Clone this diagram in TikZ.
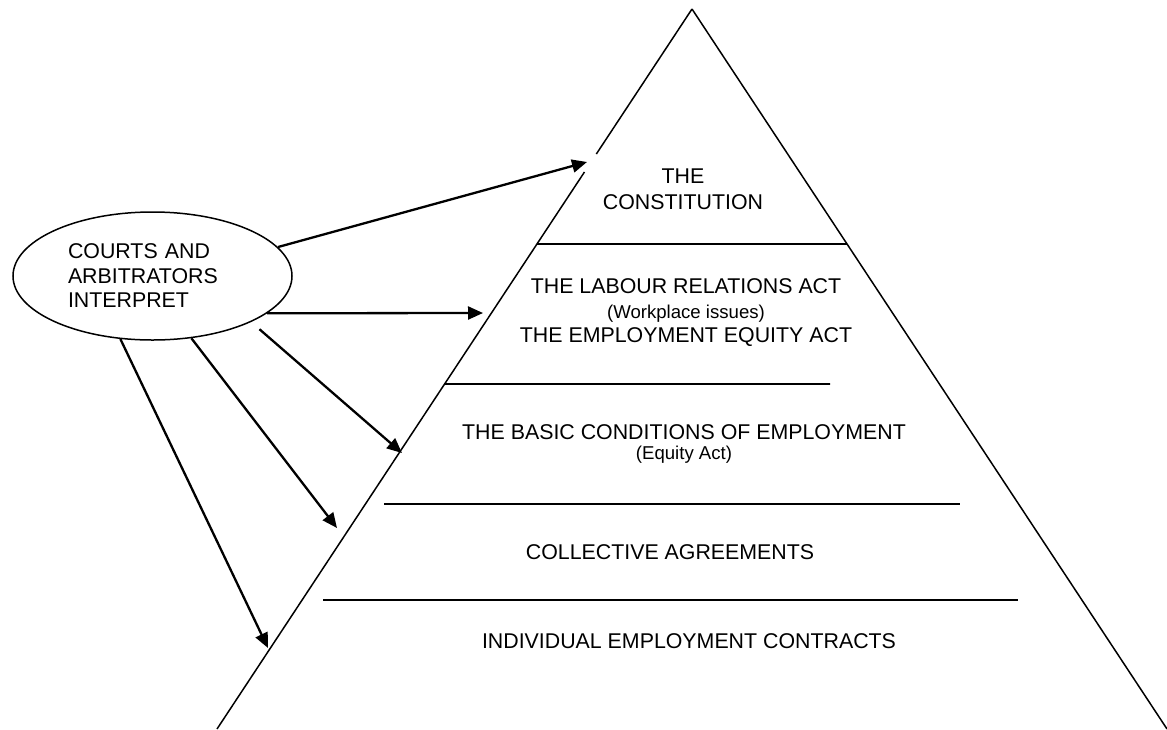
\documentclass[tikz,border=0pt]{standalone}
\usepackage{fontspec}
\setmainfont{Liberation Sans}
\usetikzlibrary{arrows.meta,positioning,shapes.geometric,calc}

\begin{document}
\begin{tikzpicture}[x=1pt,y=-1pt,node distance=25pt,on grid,
    >={Triangle[length=15pt,width=13pt]}]
  \tikzstyle{level}=[inner sep=0pt,font=\fontsize{21.35}{24}\selectfont,text height=15.3pt,text depth=4.5pt]
  \tikzstyle{note}=[inner sep=0pt,font=\fontsize{18.6}{21}\selectfont,text height=13.4pt,text depth=3.9pt]
  \tikzstyle{side}=[line width=1.5pt]
  \tikzstyle{rule}=[line width=1.7pt]
  \tikzstyle{interp}=[->,line width=2.3pt]

  \useasboundingbox (0,0) rectangle (1167,729);

  % Pyramid outline
  \coordinate (top) at (692,9);
  \coordinate (bl)  at (217,729);
  \coordinate (br)  at (1167,729);
  \coordinate (gap1) at ($(top)!0.2014!(bl)$);
  \coordinate (gap2) at ($(top)!0.2264!(bl)$);
  \draw[side] (top) -- (gap1);
  \draw[side] (gap2) -- (bl);
  \draw[side] (top) -- (br);

  % Dividing lines
  \coordinate (r1l) at ($(top)!0.3264!(bl)$);
  \coordinate (r1r) at ($(top)!0.3264!(br)$);
  \coordinate (r2l) at ($(top)!0.5208!(bl)$);
  \coordinate (r2r) at (830,384);
  \coordinate (r3l) at (384,504);
  \coordinate (r3r) at (960,504);
  \coordinate (r4l) at (323,600);
  \coordinate (r4r) at (1018,600);
  \draw[rule] (r1l) -- (r1r);
  \draw[rule] (r2l) -- (r2r);
  \draw[rule] (r3l) -- (r3r);
  \draw[rule] (r4l) -- (r4r);

  % Levels
  \node[level] (the)    at (683,177.6) {THE};
  \node[level] (constitution) [below=26pt of the] {CONSTITUTION};
  \node[level] (lra)    at (686,287.6) {THE LABOUR RELATIONS ACT};
  \node[note]  (work)   [below=25.65pt of lra] {(Workplace issues)};
  \node[level] (eea)    [below=23.35pt of work] {THE EMPLOYMENT EQUITY ACT};
  \node[level] (basic)  at (684,433.6) {THE BASIC CONDITIONS OF EMPLOYMENT};
  \node[note]  (equity) [below=20.65pt of basic] {(Equity Act)};
  \node[level] (coll)   at (670,553.6) {COLLECTIVE AGREEMENTS};
  \node[level] (indiv)  at (689,642.6) {INDIVIDUAL EMPLOYMENT CONTRACTS};

  % Courts
  \node[ellipse,draw,line width=1.5pt,minimum width=279pt,minimum height=128pt,
        inner sep=0pt,text width=169pt,align=left,
        font=\fontsize{21.35}{24.5}\selectfont] (courts) at (152.5,276)
        {COURTS AND\\ARBITRATORS\\INTERPRET};

  \coordinate (t1) at (587,162);
  \coordinate (t2) at (483,313);
  \coordinate (t3) at (402,453);
  \coordinate (t4) at (337,528);
  \coordinate (t5) at (268,648);
  \draw[interp] (courts.13) -- (t1);
  \draw[interp] (courts.-18) -- (t2);
  \draw[interp,shorten <=11pt] (courts.-25) -- (t3);
  \draw[interp] (courts.-58) -- (t4);
  \draw[interp] (courts.-117) -- (t5);
\end{tikzpicture}
\end{document}
